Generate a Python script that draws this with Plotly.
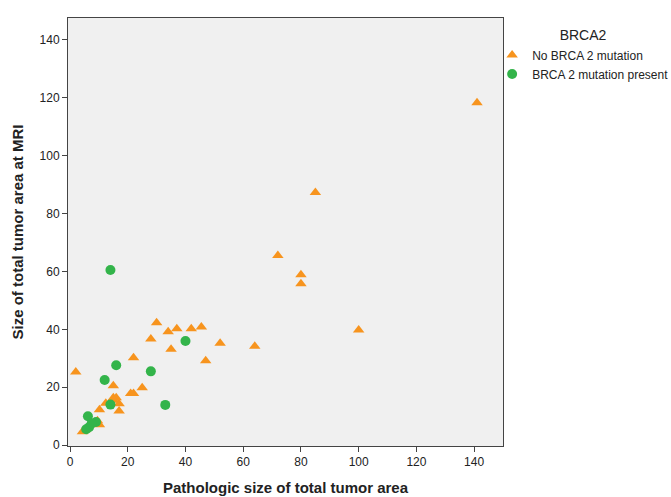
import plotly.graph_objects as go

# Orange triangles: No BRCA 2 mutation
no_mut_x = [141, 85, 72, 80, 80, 100, 52, 64, 45.5, 47, 30, 34, 37, 42, 28, 35, 22, 2,
            15, 21, 22, 25, 15, 16, 17, 17, 12.4, 10.2, 10.2, 5.2, 4.3, 9.5, 15.2]
no_mut_y = [118.3, 87.3, 65.5, 58.9, 55.8, 39.8, 35.2, 34.2, 40.8, 29.2, 42.3, 39.2, 40.2, 40.2, 36.7, 33.1, 30.2, 25.3,
            20.5, 17.8, 17.8, 19.8, 16.4, 16.4, 14.3, 11.8, 14.5, 12.2, 7.0, 5.3, 4.6, 8.4, 15.5]

# Green circles: BRCA 2 mutation present
mut_x = [14, 40, 16, 28, 12, 33, 14, 6.2, 9.0, 6.6, 5.6, 7.5]
mut_y = [60.5, 36.0, 27.6, 25.5, 22.5, 13.9, 14.0, 10.0, 8.0, 6.2, 5.5, 7.5]

series_names = ["No BRCA 2 mutation", "BRCA 2 mutation present"]
x_ticks = [0, 20, 40, 60, 80, 100, 120, 140]
y_ticks = [0, 20, 40, 60, 80, 100, 120, 140]

fig = go.Figure()
fig.add_trace(go.Scatter(
    x=no_mut_x, y=no_mut_y, mode="markers", name=series_names[0],
    marker=dict(symbol="triangle-up", size=10, color="#F7941E", line=dict(width=0)),
))
fig.add_trace(go.Scatter(
    x=mut_x, y=mut_y, mode="markers", name=series_names[1],
    marker=dict(symbol="circle", size=10, color="#33B44A", line=dict(width=0)),
))

axis_common = dict(
    showgrid=False, zeroline=False, showline=True, mirror=True, automargin=False,
    linecolor="#444444", linewidth=1, ticks="outside", ticklen=5,
    tickcolor="#444444", tickfont=dict(family="Liberation Sans, Arial", size=12, color="#222222"),
)

fig.update_layout(
    width=671, height=497,
    margin=dict(l=68, r=168, t=18, b=51, autoexpand=False),
    paper_bgcolor="white", plot_bgcolor="#F0F0F0",
    font=dict(family="Liberation Sans, Arial", color="#222222"),
    xaxis=dict(range=[-0.7, 150], tickvals=x_ticks,
               title=dict(text="<b>Pathologic size of total tumor area</b>", font=dict(size=15), standoff=14),
               **axis_common),
    yaxis=dict(range=[-0.3, 147.6], tickvals=y_ticks,
               title=dict(text="<b>Size of total tumor area at MRI</b>", font=dict(size=15), standoff=12),
               **axis_common),
    legend=dict(
        x=0.975, xanchor="left", y=0.99, yanchor="top",
        xref="paper", yref="paper",
        bgcolor="rgba(0,0,0,0)",
        title=dict(text="BRCA2", side="top center", font=dict(size=14)),
        font=dict(size=12), itemwidth=30, tracegroupgap=0,
    ),
    showlegend=True,
)

fig.write_html("out.html", config={"displayModeBar": False},
               post_script="document.body.style.margin='0px';")
